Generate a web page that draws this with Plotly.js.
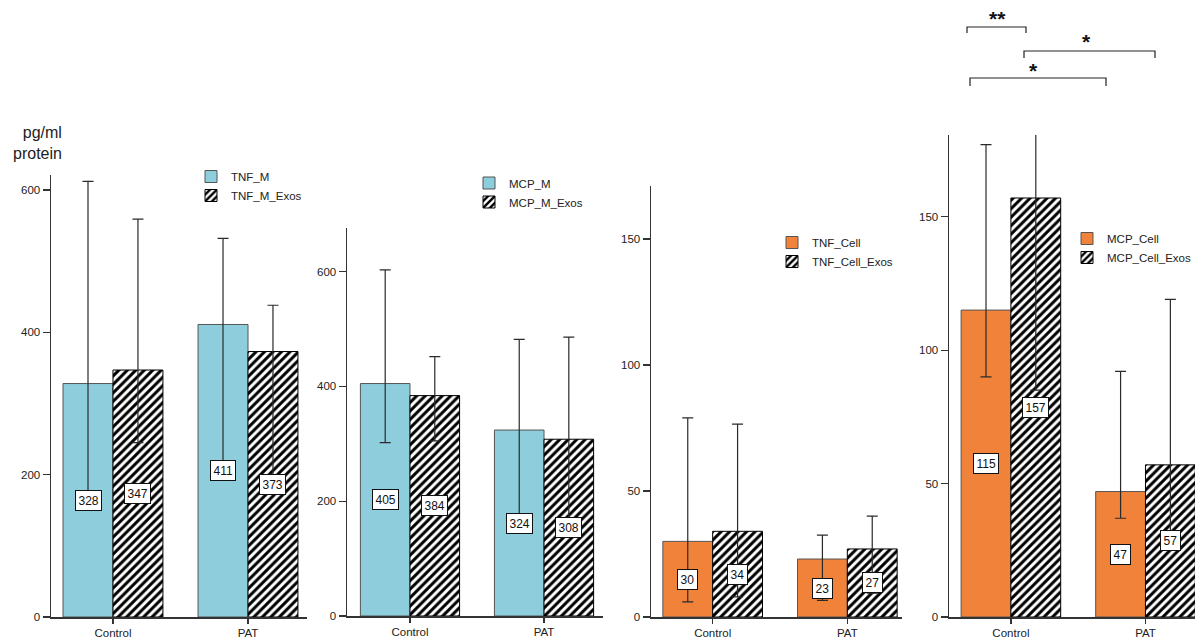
<!DOCTYPE html>
<html>
<head>
<meta charset="utf-8">
<script src="https://cdn.plot.ly/plotly-3.0.1.min.js"></script>
<style>
  html, body { margin: 0; padding: 0; background: #fff; overflow: hidden; }
  #chart { width: 1195px; height: 638px; }
</style>
</head>
<body>
<div id="chart"></div>
<script>
// Groups on the x axis
const categories = ['Control', 'PAT'];

// TNF in macrophage medium (pg/ml protein): mean, upper and lower whisker
const tnfM = [328, 411];
const tnfMHi = [612, 532];
const tnfMLo = [165, 205];
const tnfMExos = [347, 373];
const tnfMExosHi = [559, 438];
const tnfMExosLo = [245, 190];

// MCP in macrophage medium
const mcpM = [405, 324];
const mcpMHi = [603, 482];
const mcpMLo = [302, 172];
const mcpMExos = [384, 308];
const mcpMExosHi = [452, 486];
const mcpMExosLo = [305, 165];

// TNF in cell lysate
const tnfCell = [30, 23];
const tnfCellHi = [79, 32.5];
const tnfCellLo = [6, 6.6];
const tnfCellExos = [34, 27];
const tnfCellExosHi = [76.5, 40];
const tnfCellExosLo = [8, 9.5];

// MCP in cell lysate
const mcpCell = [115, 47];
const mcpCellHi = [177, 92];
const mcpCellLo = [90, 37];
const mcpCellExos = [157, 57];
const mcpCellExosHi = [192, 119];
const mcpCellExosLo = [85, 30];

// Significance marks over the MCP cell panel
const sigLabels = ['**', '*', '*'];

const W = 1195, H = 638;
const px = x => x / W;
const py = y => 1 - y / H;

const BLUE = '#8ecedc';
const ORANGE = '#f0823a';
const FONT = 'Liberation Sans, Arial, sans-serif';
const GROUP_HALF = 0.185; // half of one bar's width in category units

function errs(v, hi, lo) {
  return {
    type: 'data', symmetric: false,
    array: v.map((d, i) => hi[i] - d),
    arrayminus: v.map((d, i) => d - lo[i]),
    color: '#2a2a2a', thickness: 1.2, width: 5.5
  };
}

function solidBar(name, vals, hi, lo, color, ax, legend) {
  return {
    type: 'bar', name: name, x: categories, y: vals,
    xaxis: 'x' + ax, yaxis: 'y' + ax, legend: legend,
    marker: { color: color, line: { color: '#555', width: 1 } },
    error_y: errs(vals, hi, lo), cliponaxis: false, hoverinfo: 'skip'
  };
}

function hatchBar(name, vals, hi, lo, ax, legend) {
  return {
    type: 'bar', name: name, x: categories, y: vals,
    xaxis: 'x' + ax, yaxis: 'y' + ax, legend: legend,
    marker: {
      color: '#fff',
      line: { color: '#000', width: 1 },
      pattern: { shape: '/', fgcolor: '#000', bgcolor: '#fff', size: 6, solidity: 0.5 }
    },
    error_y: errs(vals, hi, lo), cliponaxis: false, hoverinfo: 'skip'
  };
}

const ax1 = '', ax2 = '2', ax3 = '3', ax4 = '4';
const data = [
  solidBar('TNF_M', tnfM, tnfMHi, tnfMLo, BLUE, ax1, 'legend'),
  hatchBar('TNF_M_Exos', tnfMExos, tnfMExosHi, tnfMExosLo, ax1, 'legend'),
  solidBar('MCP_M', mcpM, mcpMHi, mcpMLo, BLUE, ax2, 'legend2'),
  hatchBar('MCP_M_Exos', mcpMExos, mcpMExosHi, mcpMExosLo, ax2, 'legend2'),
  solidBar('TNF_Cell', tnfCell, tnfCellHi, tnfCellLo, ORANGE, ax3, 'legend3'),
  hatchBar('TNF_Cell_Exos', tnfCellExos, tnfCellExosHi, tnfCellExosLo, ax3, 'legend3'),
  solidBar('MCP_Cell', mcpCell, mcpCellHi, mcpCellLo, ORANGE, ax4, 'legend4'),
  hatchBar('MCP_Cell_Exos', mcpCellExos, mcpCellExosHi, mcpCellExosLo, ax4, 'legend4')
];

// Panel frames in pixels: left, right, bottom, top, x range, y max, y step
const panels = [
  { l: 51, r: 307, b: 617, t: 175, xr: [-0.459, 1.437], ymax: 621, dt: 200 },
  { l: 347, r: 603, b: 616, t: 228, xr: [-0.47, 1.44], ymax: 676, dt: 200 },
  { l: 651, r: 902, b: 617, t: 186, xr: [-0.458, 1.406], ymax: 171, dt: 50 },
  { l: 949, r: 1195, b: 617, t: 135, xr: [-0.46, 1.368], ymax: 180.6, dt: 50 }
];

const layout = {
  width: W, height: H, autosize: false,
  margin: { l: 0, r: 0, t: 0, b: 0, pad: 0, autoexpand: false },
  paper_bgcolor: '#fff', plot_bgcolor: 'rgba(0,0,0,0)',
  barmode: 'group', bargap: 0.26, bargroupgap: 0,
  font: { family: FONT, size: 11, color: '#222' },
  annotations: [], shapes: []
};

panels.forEach((p, i) => {
  const s = i === 0 ? '' : String(i + 1);
  layout['xaxis' + s] = {
    domain: [px(p.l), px(p.r)], anchor: 'y' + s,
    type: 'category', range: p.xr, automargin: false,
    showline: true, linecolor: '#333', linewidth: 1.5,
    ticks: 'outside', ticklen: 5, tickwidth: 1.2, tickcolor: '#333',
    tickfont: { family: FONT, size: 11.5, color: '#222' },
    showgrid: false, zeroline: false, fixedrange: true
  };
  layout['yaxis' + s] = {
    domain: [py(p.b), py(p.t)], anchor: 'x' + s,
    range: [0, p.ymax], dtick: p.dt, tick0: 0, automargin: false,
    showline: true, linecolor: '#333', linewidth: 1.5,
    ticks: 'outside', ticklen: 7, tickwidth: 1.2, tickcolor: '#333',
    tickfont: { family: FONT, size: 11.5, color: '#222' },
    showgrid: false, zeroline: false, fixedrange: true
  };
});

// Legends, one per panel (left edge, top edge in pixels)
const legendPos = [[191, 162], [469, 168.5], [772, 228], [1067, 224]];
['legend', 'legend2', 'legend3', 'legend4'].forEach((k, i) => {
  layout[k] = {
    x: px(legendPos[i][0]), y: py(legendPos[i][1]),
    xanchor: 'left', yanchor: 'top',
    bgcolor: 'rgba(0,0,0,0)', borderwidth: 0,
    font: { family: FONT, size: 11.5, color: '#222' },
    itemclick: false, itemdoubleclick: false, tracegroupgap: 0
  };
});

// Value boxes inside each bar, at half the bar height
const valueSets = [
  [tnfM, tnfMExos, ''], [mcpM, mcpMExos, '2'],
  [tnfCell, tnfCellExos, '3'], [mcpCell, mcpCellExos, '4']
];
valueSets.forEach(([a, b, s]) => {
  [[a, -GROUP_HALF], [b, GROUP_HALF]].forEach(([vals, off]) => {
    vals.forEach((v, j) => {
      layout.annotations.push({
        xref: 'x' + s, yref: 'y' + s, x: j + off, y: v / 2,
        text: String(v), showarrow: false,
        bgcolor: '#fff', bordercolor: '#111', borderwidth: 1, borderpad: 2.5,
        font: { family: FONT, size: 12, color: '#111' }
      });
    });
  });
});

// Axis unit label
layout.annotations.push({
  xref: 'paper', yref: 'paper', x: px(64), y: py(122),
  xanchor: 'right', yanchor: 'top', align: 'right', showarrow: false,
  text: 'pg/ml<br>protein',
  font: { family: FONT, size: 16, color: '#222' }
});

// Significance brackets: left, right, top, leg bottom, star x, star y
const brackets = [
  [967, 1026, 27, 33, 997, 16],
  [1024, 1155, 51, 58, 1086, 40],
  [970, 1106, 78, 86, 1033, 68]
];
brackets.forEach(([l, r, t, b, sx, sy], i) => {
  layout.shapes.push({
    type: 'path', xref: 'paper', yref: 'paper',
    path: `M${px(l)},${py(b)} L${px(l)},${py(t)} L${px(r)},${py(t)} L${px(r)},${py(b)}`,
    line: { color: '#222', width: 1.2 }
  });
  layout.annotations.push({
    xref: 'paper', yref: 'paper', x: px(sx), y: py(sy),
    xanchor: 'center', yanchor: 'middle', showarrow: false,
    text: '<b>' + sigLabels[i] + '</b>',
    font: { family: FONT, size: 21, color: '#111' },
    yshift: -2
  });
});

Plotly.newPlot('chart', data, layout, { displayModeBar: false, staticPlot: true });
</script>
</body>
</html>
